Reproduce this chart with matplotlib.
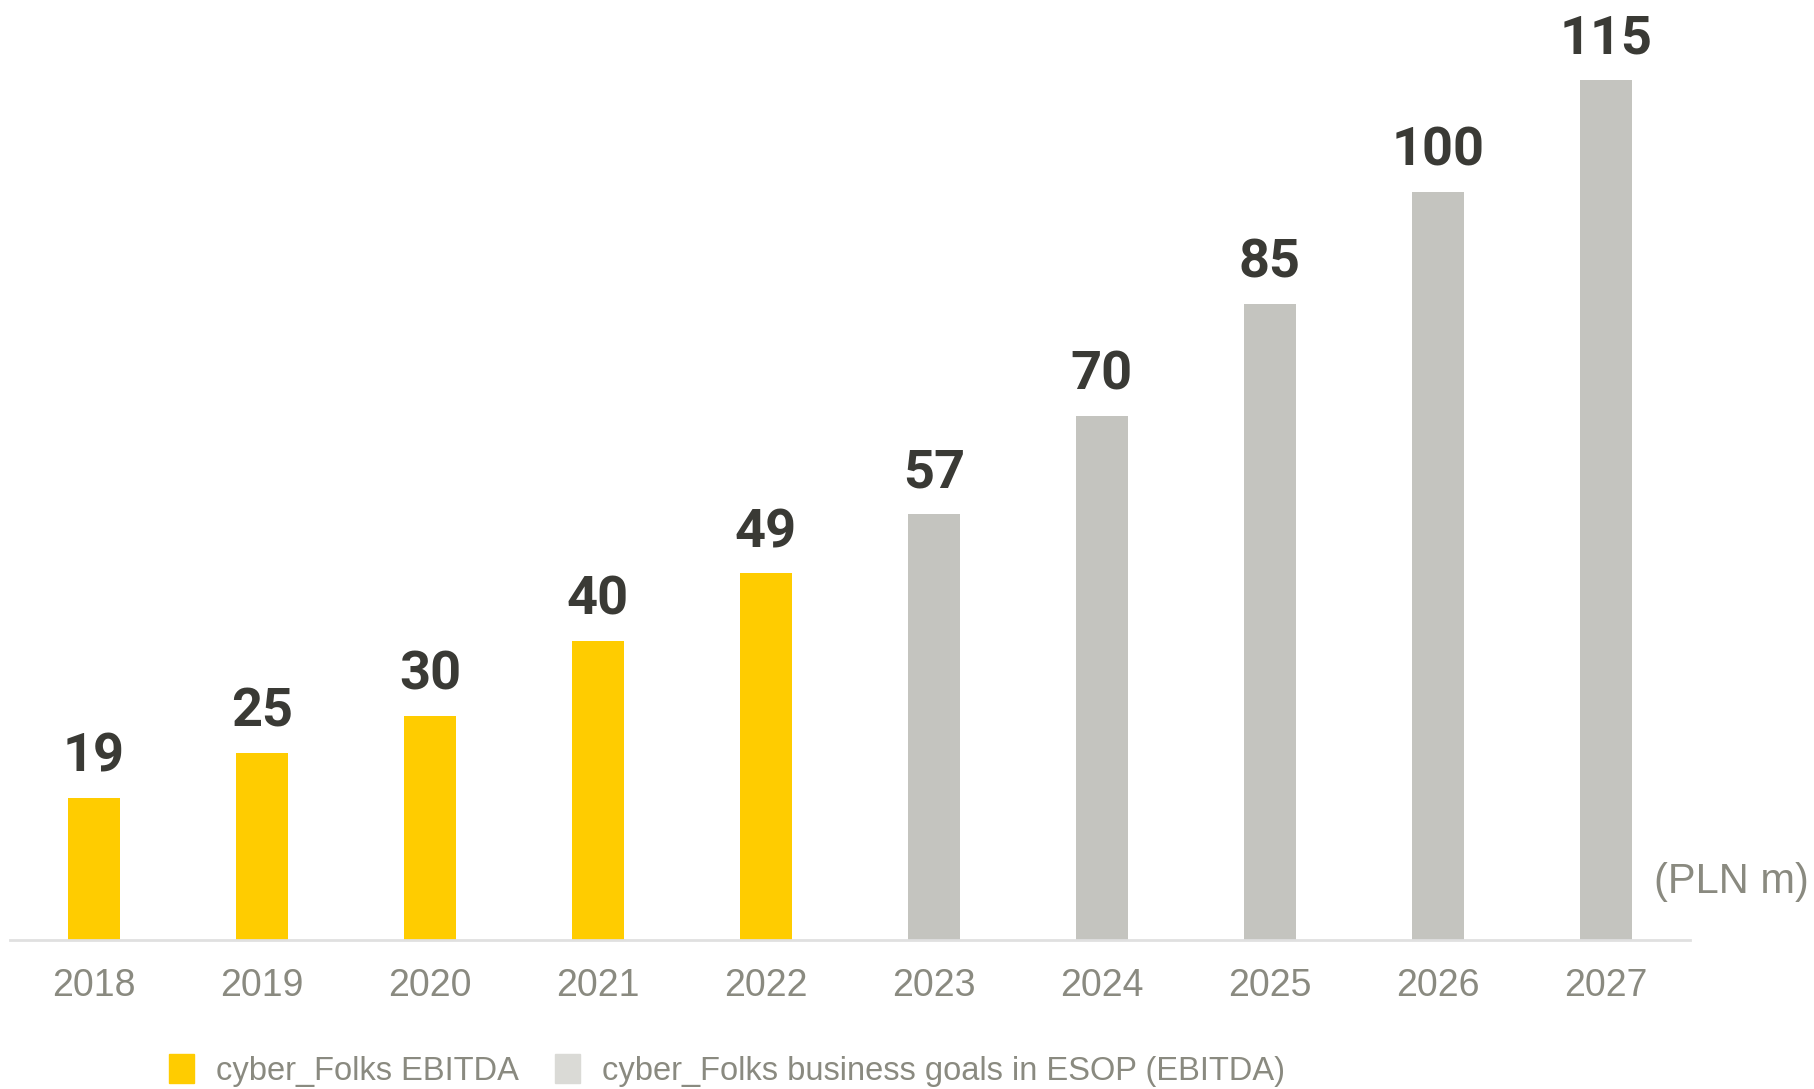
import matplotlib.pyplot as plt
from matplotlib.patches import Patch

# EBITDA history and ESOP targets, PLN m
years = ["2018", "2019", "2020", "2021", "2022", "2023", "2024", "2025", "2026", "2027"]
ebitda = [19, 25, 30, 40, 49, 57, 70, 85, 100, 115]
is_actual = [True, True, True, True, True, False, False, False, False, False]

yellow = "#FFCC00"
grey_bar = "#C4C4BF"
grey_legend = "#DADAD6"
label_dark = "#3A3A35"
text_grey = "#8A8A80"

fig = plt.figure(figsize=(18.14, 10.89), dpi=100)
ax = fig.add_axes([0.0055, 0.1368, 0.926, 0.8243])

colors = [yellow if a else grey_bar for a in is_actual]
x = range(len(years))
bars = ax.bar(x, ebitda, width=0.31, color=colors, zorder=2)

for rect, v in zip(bars, ebitda):
    ax.annotate(str(v), (rect.get_x() + rect.get_width() / 2, rect.get_height()),
                xytext=(0, 19), textcoords="offset points", ha="center", va="baseline",
                fontsize=39, fontweight="bold", family="Roboto", color=label_dark,
                annotation_clip=False)

ax.set_xlim(-0.5, 9.5)
ax.set_ylim(0, 120)
ax.set_xticks(list(x))
ax.set_xticklabels(years, family="Liberation Sans", fontsize=27, color=text_grey)
ax.tick_params(axis="x", length=0, pad=20)
ax.set_yticks([])
for side in ["top", "right", "left"]:
    ax.spines[side].set_visible(False)
ax.spines["bottom"].set_color("#E0E0E0")
ax.spines["bottom"].set_linewidth(2)

fig.text(0.997, 0.19, "(PLN m)", ha="right", va="center", fontsize=30,
         family="Liberation Sans", color=text_grey)

handles = [Patch(color=yellow, label="cyber_Folks EBITDA"),
           Patch(color=grey_legend, label="cyber_Folks business goals in ESOP (EBITDA)")]
leg = fig.legend(handles=handles, loc="center left", bbox_to_anchor=(0.077, 0.017),
                 ncol=2, frameon=False, handlelength=0.75, handleheight=1.0,
                 handletextpad=0.7, columnspacing=1.1,
                 prop={"family": "Liberation Sans", "size": 23.5})
for t in leg.get_texts():
    t.set_color(text_grey)

fig.savefig("out.png", dpi=100, facecolor="white")
